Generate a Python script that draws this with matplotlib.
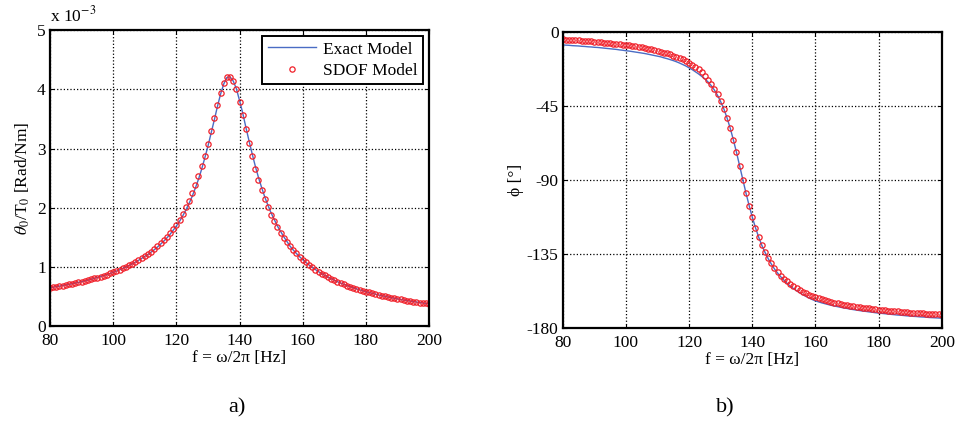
import numpy as np
import matplotlib.pyplot as plt

plt.rcParams['font.family'] = ['Liberation Serif', 'DejaVu Serif']
plt.rcParams['mathtext.fontset'] = 'stix'
plt.rcParams['axes.unicode_minus'] = False

# frequency grid [Hz]
freq = np.arange(80, 201)

# SDOF model: |theta0/T0| in units of 1e-3 Rad/Nm
sdof_mag = [
    0.650, 0.658, 0.667, 0.676, 0.686, 0.695, 0.706, 0.716, 0.728, 0.739,
    0.751, 0.764, 0.777, 0.791, 0.806, 0.821, 0.837, 0.853, 0.871, 0.890,
    0.909, 0.929, 0.951, 0.974, 0.998, 1.024, 1.051, 1.080, 1.111, 1.144,
    1.179, 1.217, 1.257, 1.301, 1.348, 1.398, 1.453, 1.512, 1.577, 1.648,
    1.710, 1.800, 1.900, 2.006, 2.118, 2.243, 2.384, 2.537, 2.706, 2.880,
    3.070, 3.300, 3.520, 3.740, 3.940, 4.100, 4.200, 4.210, 4.135, 4.000,
    3.792, 3.571, 3.326, 3.094, 2.868, 2.659, 2.474, 2.302, 2.150, 2.010,
    1.885, 1.774, 1.672, 1.580, 1.496, 1.420, 1.350, 1.286, 1.227, 1.173,
    1.123, 1.076, 1.033, 0.993, 0.956, 0.921, 0.888, 0.857, 0.828, 0.801,
    0.776, 0.751, 0.728, 0.707, 0.686, 0.667, 0.648, 0.630, 0.614, 0.598,
    0.582, 0.568, 0.554, 0.540, 0.527, 0.515, 0.503, 0.492, 0.481, 0.470,
    0.460, 0.451, 0.441, 0.432, 0.423, 0.415, 0.407, 0.399, 0.391, 0.384,
    0.377,
]

# exact model magnitude
exact_mag = [
    0.650, 0.658, 0.667, 0.676, 0.686, 0.695, 0.706, 0.716, 0.728, 0.739,
    0.751, 0.764, 0.777, 0.791, 0.806, 0.821, 0.837, 0.853, 0.871, 0.890,
    0.909, 0.929, 0.951, 0.974, 0.998, 1.024, 1.051, 1.080, 1.111, 1.144,
    1.179, 1.210, 1.250, 1.290, 1.335, 1.385, 1.435, 1.490, 1.550, 1.620,
    1.690, 1.770, 1.860, 1.960, 2.070, 2.190, 2.330, 2.480, 2.650, 2.840,
    3.040, 3.260, 3.480, 3.710, 3.920, 4.090, 4.200, 4.210, 4.140, 4.010,
    3.810, 3.600, 3.360, 3.130, 2.910, 2.700, 2.510, 2.340, 2.180, 2.040,
    1.910, 1.800, 1.690, 1.600, 1.510, 1.430, 1.350, 1.286, 1.227, 1.173,
    1.123, 1.076, 1.033, 0.993, 0.956, 0.921, 0.888, 0.857, 0.828, 0.801,
    0.776, 0.751, 0.728, 0.707, 0.686, 0.667, 0.648, 0.630, 0.614, 0.598,
    0.582, 0.568, 0.554, 0.540, 0.527, 0.515, 0.503, 0.492, 0.481, 0.470,
    0.460, 0.451, 0.441, 0.432, 0.423, 0.415, 0.407, 0.399, 0.391, 0.384,
    0.377,
]

# phase lag [deg], stored positive
sdof_phase = [
    4.6, 4.7, 4.8, 5.0, 5.1, 5.2, 5.4, 5.5, 5.7, 5.8,
    6.0, 6.1, 6.3, 6.5, 6.7, 6.9, 7.1, 7.3, 7.6, 7.8,
    8.1, 8.3, 8.6, 8.9, 9.2, 9.5, 9.9, 10.3, 10.7, 11.1,
    11.6, 12.0, 12.6, 13.1, 13.7, 14.4, 15.1, 15.9, 16.8, 17.7,
    18.8, 20.0, 21.4, 22.9, 24.7, 26.7, 29.0, 31.6, 34.6, 38.1,
    42.3, 46.9, 52.3, 58.5, 65.6, 73.3, 81.5, 89.8, 98.0, 105.6,
    112.7, 119.0, 124.7, 129.6, 133.9, 137.6, 140.8, 143.6, 146.0, 148.2,
    150.1, 151.8, 153.3, 154.7, 155.9, 157.0, 158.0, 158.9, 159.8, 160.5,
    161.3, 161.9, 162.5, 163.1, 163.6, 164.1, 164.6, 165.0, 165.4, 165.8,
    166.2, 166.5, 166.8, 167.2, 167.4, 167.7, 168.0, 168.2, 168.5, 168.7,
    168.9, 169.1, 169.3, 169.5, 169.7, 169.9, 170.0, 170.2, 170.4, 170.5,
    170.7, 170.8, 170.9, 171.1, 171.2, 171.3, 171.4, 171.6, 171.7, 171.8,
    171.9,
]

exact_phase = [
    8.0, 8.1, 8.2, 8.4, 8.5, 8.6, 8.8, 8.9, 9.1, 9.2,
    9.4, 9.5, 9.7, 9.9, 10.1, 10.3, 10.5, 10.7, 11.0, 11.2,
    11.5, 11.7, 12.0, 12.3, 12.6, 12.9, 13.2, 13.6, 14.0, 14.4,
    14.8, 15.2, 15.8, 16.3, 16.9, 17.5, 18.2, 19.0, 19.9, 20.8,
    21.9, 23.0, 24.3, 25.6, 27.1, 28.6, 30.5, 32.7, 35.4, 38.6,
    42.5, 46.9, 52.3, 58.5, 65.6, 73.3, 81.5, 89.8, 98.0, 105.6,
    112.7, 119.0, 124.7, 129.7, 134.0, 137.8, 141.1, 144.1, 146.6, 148.9,
    151.0, 152.9, 154.6, 156.0, 157.4, 158.6, 159.8, 160.9, 161.9, 162.8,
    163.6, 164.2, 164.8, 165.3, 165.8, 166.3, 166.7, 167.1, 167.5, 167.9,
    168.2, 168.6, 168.9, 169.2, 169.5, 169.8, 170.0, 170.3, 170.5, 170.8,
    171.0, 171.2, 171.4, 171.6, 171.8, 172.0, 172.2, 172.3, 172.5, 172.7,
    172.8, 173.0, 173.1, 173.3, 173.4, 173.5, 173.7, 173.8, 173.9, 174.0,
    174.1,
]

line_col = '#4a6cc4'
mark_col = '#f0202a'
fs = 12.5


def style(ax):
    ax.set_xlim(80, 200)
    ax.set_xticks(range(80, 201, 20))
    ax.grid(True, color='black', linestyle=':', linewidth=0.9)
    ax.tick_params(direction='in', top=True, right=True, length=3,
                   width=0.8, labelsize=fs)
    ax.tick_params(axis='x', pad=5)
    ax.tick_params(axis='y', pad=3)
    for s in ax.spines.values():
        s.set_linewidth(1.6)
    ax.set_xlabel('f = ω/2π [Hz]', fontsize=fs, labelpad=1)


fig = plt.figure(figsize=(9.62, 4.36), dpi=100)
ax1 = fig.add_axes([0.052, 0.252, 0.394, 0.679])
ax2 = fig.add_axes([0.585, 0.248, 0.394, 0.679])

# a) magnitude
ax1.plot(freq, exact_mag, color=line_col, lw=1.0, label='Exact Model')
ax1.plot(freq, sdof_mag, linestyle='none', marker='o', ms=3.8, mfc='none',
         mec=mark_col, mew=0.9, label='SDOF Model')
ax1.set_ylim(0, 5)
ax1.set_yticks(range(0, 6))
style(ax1)
ax1.set_ylabel(r'$\theta_0$/T$_0$ [Rad/Nm]', fontsize=fs, labelpad=4)
ax1.text(0.0, 1.015, r'x 10$^{-3}$', transform=ax1.transAxes,
         fontsize=fs, ha='left', va='bottom')
leg = ax1.legend(loc='upper right', fontsize=fs, fancybox=False,
                 framealpha=1, edgecolor='black', borderaxespad=0.35,
                 handlelength=2.8, handletextpad=0.4, borderpad=0.3,
                 labelspacing=0.3)
leg.get_frame().set_linewidth(1.4)

# b) phase
ax2.plot(freq, -np.array(exact_phase), color=line_col, lw=1.0)
ax2.plot(freq, -np.array(sdof_phase), linestyle='none', marker='o', ms=3.8,
         mfc='none', mec=mark_col, mew=0.9)
ax2.set_ylim(-180, 0)
ax2.set_yticks([0, -45, -90, -135, -180])
style(ax2)
ax2.set_ylabel('ϕ [°]', fontsize=fs, labelpad=2)

fig.text(0.246, 0.065, 'a)', fontsize=16, ha='center', va='center')
fig.text(0.754, 0.065, 'b)', fontsize=16, ha='center', va='center')

plt.savefig('out.png', dpi=100)
